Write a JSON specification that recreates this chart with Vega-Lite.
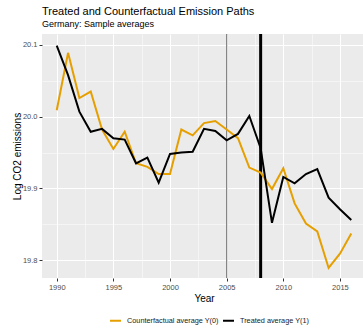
{
  "$schema": "https://vega.github.io/schema/vega-lite/v6.json",
  "width": 324,
  "height": 244,
  "autosize": {"type": "none"},
  "padding": {"left": 42, "top": 34, "right": 0, "bottom": 52},
  "background": "white",
  "config": {
    "font": "Liberation Sans",
    "view": {"fill": "#EBEBEB", "stroke": null},
    "axis": {
      "labelFont": "Liberation Sans",
      "titleFont": "Liberation Sans",
      "labelFontSize": 7.5,
      "labelColor": "#4D4D4D",
      "tickColor": "#333333",
      "tickSize": 3,
      "domain": false,
      "gridColor": "#FFFFFF",
      "titleFontWeight": "normal",
      "titleFontSize": 10,
      "titleColor": "#000000"
    }
  },
  "title": {
    "text": "Treated and Counterfactual Emission Paths",
    "subtitle": "Germany: Sample averages",
    "anchor": "start",
    "frame": "group",
    "font": "Liberation Sans",
    "fontSize": 11,
    "fontWeight": "normal",
    "color": "#000000",
    "subtitleFont": "Liberation Sans",
    "subtitleFontSize": 9,
    "subtitleColor": "#000000",
    "subtitlePadding": 3,
    "offset": 4
  },
  "datasets": {
    "paths": [
      {"year": 1990, "series": "Counterfactual average Y(0)", "value": 20.009},
      {"year": 1991, "series": "Counterfactual average Y(0)", "value": 20.089},
      {"year": 1992, "series": "Counterfactual average Y(0)", "value": 20.026},
      {"year": 1993, "series": "Counterfactual average Y(0)", "value": 20.035},
      {"year": 1994, "series": "Counterfactual average Y(0)", "value": 19.982},
      {"year": 1995, "series": "Counterfactual average Y(0)", "value": 19.955},
      {"year": 1996, "series": "Counterfactual average Y(0)", "value": 19.979},
      {"year": 1997, "series": "Counterfactual average Y(0)", "value": 19.935},
      {"year": 1998, "series": "Counterfactual average Y(0)", "value": 19.930},
      {"year": 1999, "series": "Counterfactual average Y(0)", "value": 19.920},
      {"year": 2000, "series": "Counterfactual average Y(0)", "value": 19.920},
      {"year": 2001, "series": "Counterfactual average Y(0)", "value": 19.982},
      {"year": 2002, "series": "Counterfactual average Y(0)", "value": 19.974},
      {"year": 2003, "series": "Counterfactual average Y(0)", "value": 19.991},
      {"year": 2004, "series": "Counterfactual average Y(0)", "value": 19.994},
      {"year": 2005, "series": "Counterfactual average Y(0)", "value": 19.982},
      {"year": 2006, "series": "Counterfactual average Y(0)", "value": 19.970},
      {"year": 2007, "series": "Counterfactual average Y(0)", "value": 19.929},
      {"year": 2008, "series": "Counterfactual average Y(0)", "value": 19.922},
      {"year": 2009, "series": "Counterfactual average Y(0)", "value": 19.899},
      {"year": 2010, "series": "Counterfactual average Y(0)", "value": 19.928},
      {"year": 2011, "series": "Counterfactual average Y(0)", "value": 19.879},
      {"year": 2012, "series": "Counterfactual average Y(0)", "value": 19.851},
      {"year": 2013, "series": "Counterfactual average Y(0)", "value": 19.840},
      {"year": 2014, "series": "Counterfactual average Y(0)", "value": 19.789},
      {"year": 2015, "series": "Counterfactual average Y(0)", "value": 19.809},
      {"year": 2016, "series": "Counterfactual average Y(0)", "value": 19.837},
      {"year": 1990, "series": "Treated average Y(1)", "value": 20.099},
      {"year": 1991, "series": "Treated average Y(1)", "value": 20.058},
      {"year": 1992, "series": "Treated average Y(1)", "value": 20.007},
      {"year": 1993, "series": "Treated average Y(1)", "value": 19.979},
      {"year": 1994, "series": "Treated average Y(1)", "value": 19.983},
      {"year": 1995, "series": "Treated average Y(1)", "value": 19.970},
      {"year": 1996, "series": "Treated average Y(1)", "value": 19.968},
      {"year": 1997, "series": "Treated average Y(1)", "value": 19.935},
      {"year": 1998, "series": "Treated average Y(1)", "value": 19.943},
      {"year": 1999, "series": "Treated average Y(1)", "value": 19.908},
      {"year": 2000, "series": "Treated average Y(1)", "value": 19.948},
      {"year": 2001, "series": "Treated average Y(1)", "value": 19.950},
      {"year": 2002, "series": "Treated average Y(1)", "value": 19.951},
      {"year": 2003, "series": "Treated average Y(1)", "value": 19.983},
      {"year": 2004, "series": "Treated average Y(1)", "value": 19.980},
      {"year": 2005, "series": "Treated average Y(1)", "value": 19.967},
      {"year": 2006, "series": "Treated average Y(1)", "value": 19.976},
      {"year": 2007, "series": "Treated average Y(1)", "value": 20.001},
      {"year": 2008, "series": "Treated average Y(1)", "value": 19.956},
      {"year": 2009, "series": "Treated average Y(1)", "value": 19.852},
      {"year": 2010, "series": "Treated average Y(1)", "value": 19.916},
      {"year": 2011, "series": "Treated average Y(1)", "value": 19.907},
      {"year": 2012, "series": "Treated average Y(1)", "value": 19.920},
      {"year": 2013, "series": "Treated average Y(1)", "value": 19.927},
      {"year": 2014, "series": "Treated average Y(1)", "value": 19.887},
      {"year": 2015, "series": "Treated average Y(1)", "value": 19.871},
      {"year": 2016, "series": "Treated average Y(1)", "value": 19.856}
    ]
  },
  "resolve": {"axis": {"x": "independent", "y": "independent"}},
  "layer": [
    {
      "data": {"values": [{"year": 2005}]},
      "mark": {"type": "rule", "color": "#7F7F7F", "strokeWidth": 1.2},
      "encoding": {
        "x": {
          "field": "year",
          "type": "quantitative",
          "scale": {"domain": [1988.7, 2017.3], "nice": false, "zero": false},
          "axis": {"orient": "top", "values": [1987.5, 1992.5, 1997.5, 2002.5, 2007.5, 2012.5, 2017.5], "labels": false, "ticks": false, "title": null, "grid": true, "gridWidth": 0.5}
        }
      }
    },
    {
      "data": {"values": [{"year": 2008}]},
      "mark": {"type": "rule", "color": "#000000", "strokeWidth": 3},
      "encoding": {
        "x": {"field": "year", "type": "quantitative", "axis": null}
      }
    },
    {
      "data": {"name": "paths"},
      "mark": {"type": "line", "strokeWidth": 2},
      "encoding": {
        "x": {
          "field": "year",
          "type": "quantitative",
          "axis": {"orient": "bottom", "values": [1990, 1995, 2000, 2005, 2010, 2015], "format": "d", "title": "Year", "grid": true, "gridWidth": 1, "labelPadding": 2, "titlePadding": 3}
        },
        "y": {
          "field": "value",
          "type": "quantitative",
          "scale": {"domain": [19.775, 20.1153], "nice": false, "zero": false},
          "axis": {"orient": "left", "values": [19.8, 19.9, 20.0, 20.1], "format": ".1f", "title": "Log CO2 emissions", "grid": true, "gridWidth": 1, "labelPadding": 2, "titlePadding": 0}
        },
        "color": {
          "field": "series",
          "type": "nominal",
          "scale": {"domain": ["Counterfactual average Y(0)", "Treated average Y(1)"], "range": ["#E69F00", "#000000"]},
          "legend": {
            "orient": "none",
            "legendX": 67,
            "legendY": 280,
            "direction": "horizontal",
            "title": null,
            "symbolType": "stroke",
            "symbolStrokeWidth": 2,
            "symbolSize": 120,
            "labelFontSize": 7.3,
            "labelFont": "Liberation Sans",
            "labelColor": "#1A1A1A",
            "columnPadding": 0,
            "labelOffset": 5
          }
        }
      }
    },
    {
      "data": {"values": [{"v": 19.85}]},
      "mark": {"type": "rule", "opacity": 0},
      "encoding": {
        "y": {
          "field": "v",
          "type": "quantitative",
          "axis": {"orient": "right", "values": [19.85, 19.95, 20.05], "labels": false, "ticks": false, "title": null, "grid": true, "gridWidth": 0.5}
        }
      }
    }
  ]
}
